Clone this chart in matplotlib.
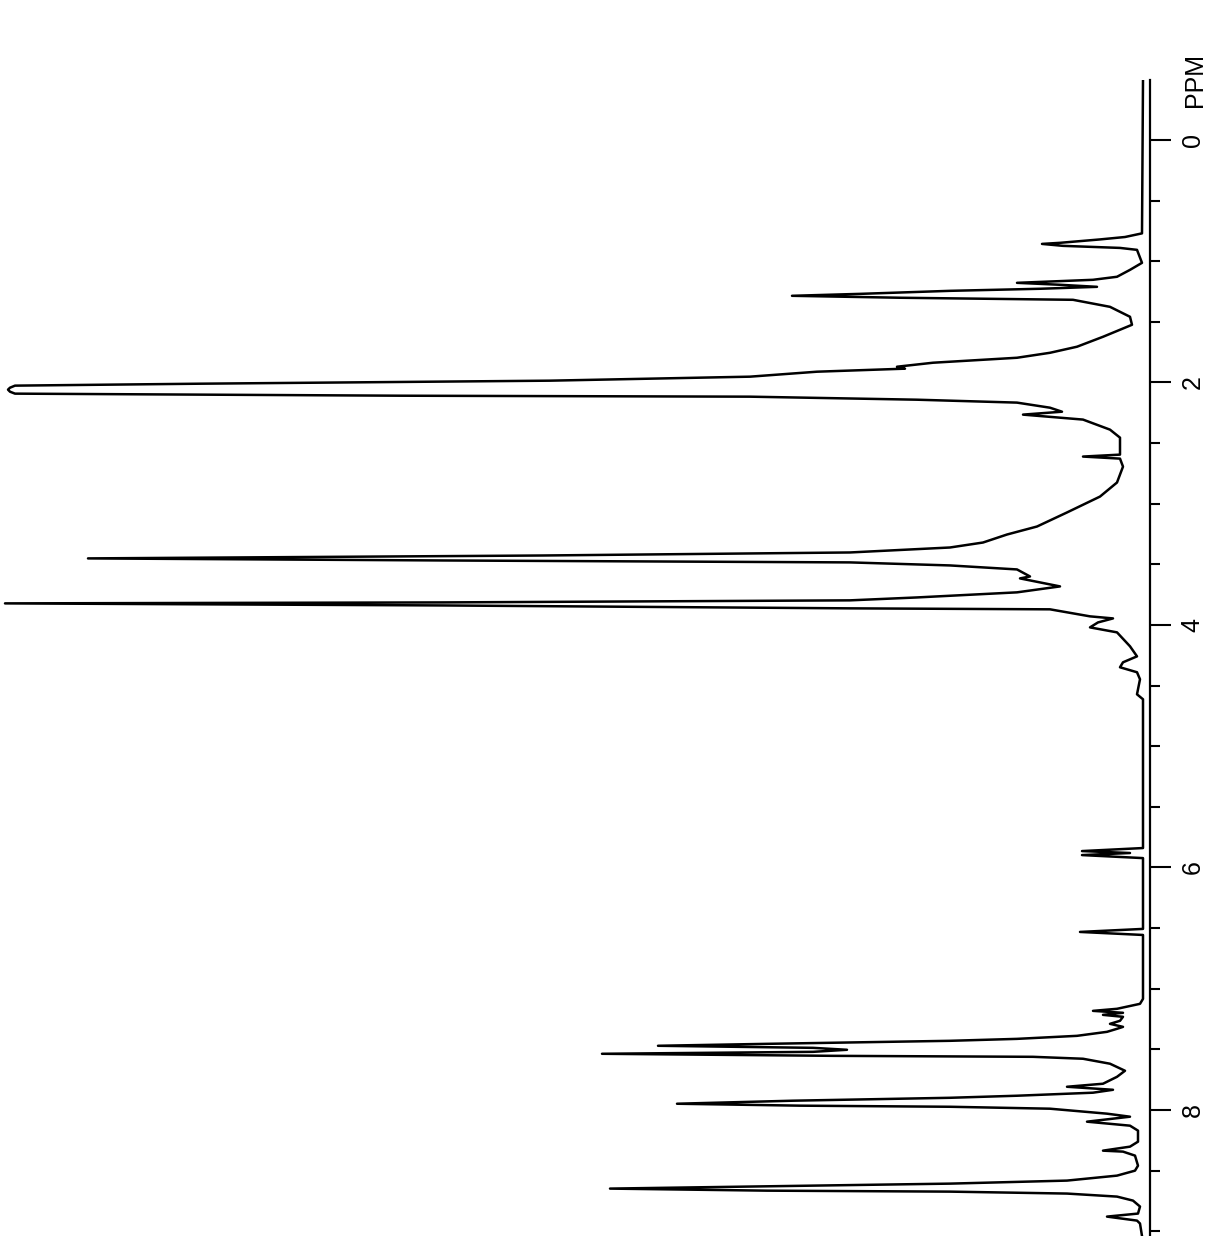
"""
1H NMR spectrum, drawn rotated (ppm axis vertical, peaks pointing left),
as in the scanned reference figure.
"""

import matplotlib
matplotlib.use("Agg")
import matplotlib.pyplot as plt
from matplotlib.ticker import MultipleLocator

# chemical shift (ppm) and intensity (arbitrary units)
ppm = [
    -0.495, 0.77, 0.80, 0.82, 0.848, 0.857, 0.873, 0.89, 0.906, 1.013,
    1.071, 1.128, 1.153, 1.178, 1.194, 1.211, 1.227, 1.244, 1.269, 1.285,
    1.301, 1.318, 1.376, 1.458, 1.524, 1.565, 1.623, 1.705, 1.755, 1.796,
    1.837, 1.870, 1.886, 1.911, 1.952, 1.985, 2.010, 2.026, 2.043, 2.059,
    2.076, 2.092, 2.109, 2.117, 2.142, 2.166, 2.208, 2.241, 2.265, 2.306,
    2.389, 2.455, 2.595, 2.611, 2.628, 2.694, 2.825, 2.941, 3.072, 3.188,
    3.254, 3.320, 3.361, 3.402, 3.427, 3.451, 3.468, 3.484, 3.509, 3.542,
    3.600, 3.616, 3.682, 3.731, 3.773, 3.797, 3.814, 3.822, 3.839, 3.863,
    3.871, 3.929, 3.946, 3.979, 4.020, 4.061, 4.176, 4.259, 4.308, 4.349,
    4.390, 4.448, 4.572, 4.613, 5.840, 5.865, 5.881, 5.898, 5.923, 6.507,
    6.532, 6.557, 7.084, 7.125, 7.166, 7.183, 7.199, 7.216, 7.232, 7.265,
    7.290, 7.315, 7.331, 7.356, 7.389, 7.414, 7.430, 7.455, 7.471, 7.488,
    7.504, 7.521, 7.537, 7.554, 7.562, 7.578, 7.619, 7.677, 7.727, 7.784,
    7.809, 7.834, 7.858, 7.883, 7.900, 7.924, 7.949, 7.965, 7.974, 7.990,
    8.031, 8.056, 8.097, 8.130, 8.171, 8.262, 8.303, 8.336, 8.344, 8.377,
    8.460, 8.501, 8.542, 8.583, 8.608, 8.633, 8.649, 8.666, 8.674, 8.690,
    8.715, 8.748, 8.797, 8.855, 8.880, 8.913, 8.937, 9.04,
]
intensity = [
    0, 1, 18, 43, 83, 101, 80, 23, 6, 1,
    13, 26, 50, 126, 83, 46, 103, 193, 283, 351,
    243, 70, 33, 13, 11, 23, 40, 66, 93, 126,
    210, 246, 238, 326, 393, 593, 943, 1128, 1133, 1135,
    1133, 1128, 743, 393, 226, 126, 93, 81, 120, 60,
    33, 23, 23, 60, 23, 20, 26, 43, 76, 106,
    136, 160, 193, 293, 600, 1055, 700, 293, 193, 126,
    113, 123, 83, 126, 226, 293, 700, 1138, 700, 293,
    93, 53, 30, 45, 53, 26, 13, 6, 20, 23,
    6, 3, 6, 0, 0, 61, 13, 61, 0, 0,
    63, 0, 0, 3, 26, 50, 20, 40, 20, 23,
    33, 20, 26, 36, 66, 126, 193, 376, 485, 330,
    296, 330, 541, 310, 110, 60, 33, 18, 26, 40,
    76, 30, 50, 126, 193, 350, 466, 343, 193, 93,
    36, 13, 56, 13, 5, 5, 13, 40, 20, 8,
    5, 8, 26, 76, 193, 400, 533, 376, 193, 76,
    26, 10, 3, 5, 36, 6, 3, 1,
]

major_ticks = [0, 2, 4, 6, 8]

fig = plt.figure(figsize=(12.17, 12.36), dpi=100)
ax = fig.add_axes([0.0, 0.0, 1150 / 1217, (1236 - 80) / 1236])

ax.plot(intensity, ppm, color="black", lw=1.8, solid_joinstyle="round")

ax.set_xlim(1143, -7)
ax.set_ylim(9.04, -0.495)

for side in ("left", "top", "bottom"):
    ax.spines[side].set_visible(False)
ax.spines["right"].set_linewidth(1.6)

ax.set_xticks([])
ax.yaxis.tick_right()
ax.yaxis.set_major_locator(MultipleLocator(2))
ax.yaxis.set_minor_locator(MultipleLocator(0.5))
ax.set_yticks(major_ticks)
ax.set_yticklabels([str(t) for t in major_ticks], rotation=90, va="center",
                   fontsize=18, family="Liberation Sans")
ax.tick_params(axis="y", which="major", direction="out", length=15, width=1.5, pad=7)
ax.tick_params(axis="y", which="minor", direction="out", length=7, width=1.5)

fig.text(1195 / 1217, 1 - 80 / 1236, "PPM", rotation=90, ha="center", va="center",
         fontsize=18, family="Liberation Sans")

fig.savefig("out.png", dpi=100)
